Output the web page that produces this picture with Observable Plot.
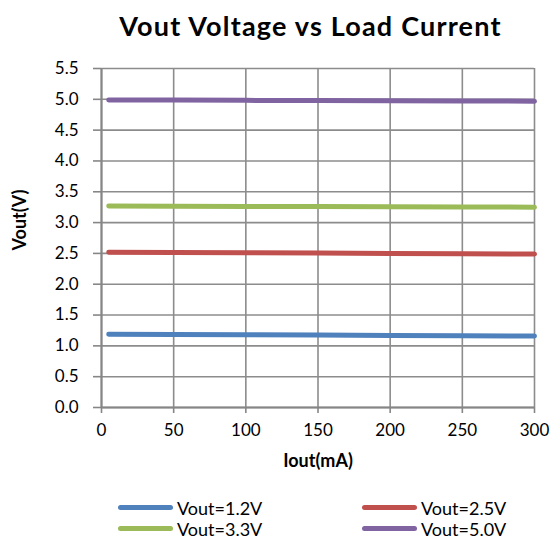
<!DOCTYPE html>
<html><head><meta charset="utf-8">
<script src="https://cdn.jsdelivr.net/npm/d3@7"></script>
<script src="https://cdn.jsdelivr.net/npm/@observablehq/plot@0.6"></script>
<style>
body{margin:0;background:#fff;font-family:Lato,"DejaVu Sans",sans-serif;}
#wrap{width:555px;height:538px;position:relative;overflow:hidden;background:#fff}
#title{position:absolute;left:66px;right:0;top:7px;text-align:center;font-weight:bold;font-size:27px;letter-spacing:1.2px;line-height:38px;color:#000}
#chart{position:absolute;left:0;top:55px}
#legend{position:absolute;left:0;top:497px;width:555px}
.item{position:absolute;display:flex;align-items:center;font-size:18px;height:21px;color:#000}
.sw{width:55px;height:5px;border-radius:3px;margin-right:4px}
</style></head>
<body><div id="wrap"><div id="title">Vout Voltage vs Load Current</div><div id="chart"></div><div id="legend"></div></div>
<script>
const current = [5, 50, 100, 150, 200, 250, 300];
const series = ["Vout=1.2V", "Vout=2.5V", "Vout=3.3V", "Vout=5.0V"];
const v12 = [1.19, 1.185, 1.18, 1.175, 1.17, 1.165, 1.16];
const v25 = [2.52, 2.515, 2.51, 2.505, 2.50, 2.495, 2.49];
const v33 = [3.27, 3.267, 3.263, 3.26, 3.257, 3.253, 3.25];
const v50 = [4.99, 4.987, 4.983, 4.98, 4.977, 4.973, 4.97];
const colors = ["#4F81BD", "#C0504D", "#9BBB59", "#8064A2"];
const xTicks = [0, 50, 100, 150, 200, 250, 300];
const yTicks = [0, 0.5, 1, 1.5, 2, 2.5, 3, 3.5, 4, 4.5, 5, 5.5];
const yTickLabels = ["0.0","0.5","1.0","1.5","2.0","2.5","3.0","3.5","4.0","4.5","5.0","5.5"];

const values = [v12, v25, v33, v50];
const data = [];
series.forEach((s, i) => current.forEach((c, j) => data.push({series: s, x: c, y: values[i][j]})));

const grid = "#8c8c8c";
const plot = Plot.plot({
  width: 555, height: 425,
  marginLeft: 101, marginRight: 21, marginTop: 13, marginBottom: 73,
  style: {fontFamily: "Lato, sans-serif", fontSize: "17px", color: "#000", background: "#fff"},
  x: {domain: [0, 300]},
  y: {domain: [0, 5.5]},
  color: {domain: series, range: colors},
  marks: [
    Plot.gridX(xTicks, {stroke: grid, strokeOpacity: 1, strokeWidth: 1.6}),
    Plot.gridY(yTicks, {stroke: grid, strokeOpacity: 1, strokeWidth: 1.6}),
    Plot.ruleX([0], {stroke: "#868686", strokeWidth: 2}),
    Plot.ruleY([0], {stroke: "#868686", strokeWidth: 2}),
    Plot.axisX(xTicks, {tickSize: 6, tickPadding: 10, stroke: "#868686", strokeWidth: 1.6, label: null, fontSize: 17, fill: "#000"}),
    Plot.axisY(yTicks, {tickSize: 8, tickPadding: 15, stroke: "#868686", strokeWidth: 1.6, label: null, fontSize: 17, fill: "#000",
      tickFormat: (d) => yTickLabels[yTicks.indexOf(d)]}),
    Plot.line(data, {x: "x", y: "y", z: "series", stroke: "series", strokeWidth: 5, strokeLinecap: "round", strokeLinejoin: "round"}),
    Plot.text(["Iout(mA)"], {frameAnchor: "bottom", dy: 59, fontWeight: "bold", fontSize: 18, letterSpacing: "1px", fill: "#000"}),
    Plot.text(["Vout(V)"], {frameAnchor: "left", textAnchor: "middle", dx: -81, dy: -18, rotate: -90, fontWeight: "bold", fontSize: 18, letterSpacing: "1px", fill: "#000"})
  ]
});
document.getElementById("chart").appendChild(plot);

const legend = document.getElementById("legend");
const pos = [[118, 0], [362, 0], [118, 21], [362, 21]];
series.forEach((s, i) => {
  const it = document.createElement("div");
  it.className = "item";
  it.style.left = pos[i][0] + "px";
  it.style.top = pos[i][1] + "px";
  const sw = document.createElement("div");
  sw.className = "sw";
  sw.style.background = colors[i];
  it.appendChild(sw);
  const t = document.createElement("span");
  t.textContent = s;
  it.appendChild(t);
  legend.appendChild(it);
});
</script></body></html>
